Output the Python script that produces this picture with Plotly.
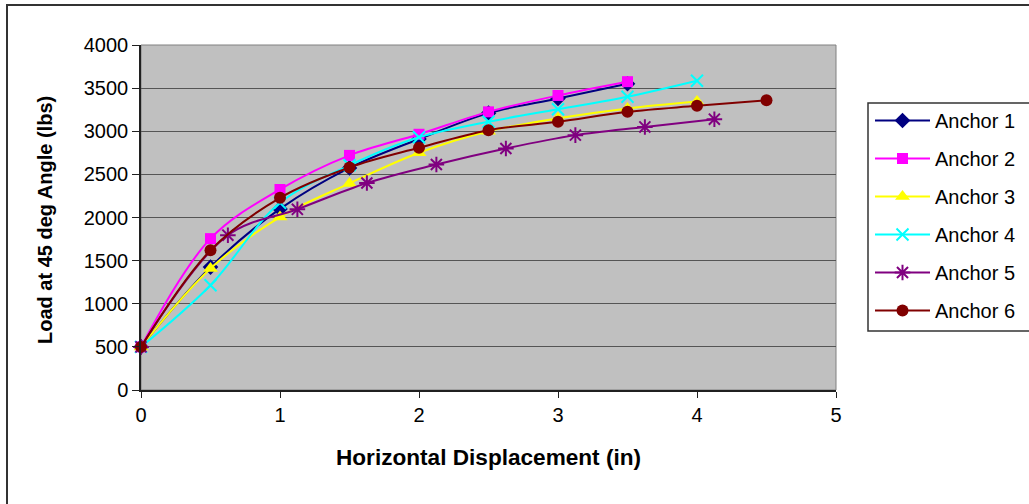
import plotly.graph_objects as go

# ---- data ----
a1_x = [0, 0.5, 1, 1.5, 2, 2.5, 3, 3.5]
a1_y = [500, 1425, 2100, 2575, 2910, 3210, 3380, 3550]

a2_x = [0, 0.5, 1, 1.5, 2, 2.5, 3, 3.5]
a2_y = [500, 1755, 2325, 2720, 2965, 3225, 3415, 3575]

a3_x = [0, 0.5, 1, 1.5, 2, 2.5, 3, 3.5, 4]
a3_y = [500, 1410, 2005, 2395, 2750, 3000, 3150, 3265, 3345]

a4_x = [0, 0.5, 1, 1.5, 2, 2.5, 3, 3.5, 4]
a4_y = [500, 1215, 2170, 2605, 2930, 3110, 3255, 3400, 3585]

a5_x = [0, 0.625, 1.125, 1.625, 2.125, 2.625, 3.125, 3.625, 4.125]
a5_y = [500, 1795, 2095, 2400, 2615, 2800, 2955, 3050, 3140]

a6_x = [0, 0.5, 1, 1.5, 2, 2.5, 3, 3.5, 4, 4.5]
a6_y = [500, 1620, 2228, 2580, 2808, 3012, 3110, 3225, 3295, 3360]

names = ["Anchor 1", "Anchor 2", "Anchor 3", "Anchor 4", "Anchor 5", "Anchor 6"]
xs = [a1_x, a2_x, a3_x, a4_x, a5_x, a6_x]
ys = [a1_y, a2_y, a3_y, a4_y, a5_y, a6_y]
colors = ["#000080", "#FF00FF", "#FFFF00", "#00FFFF", "#800080", "#800000"]
symbols = ["diamond", "square", "triangle-up", "x-thin", "asterisk", "circle"]
sizes = [12, 11, 13, 12, 13, 12]

x_ticks = [0, 1, 2, 3, 4, 5]
y_ticks = [0, 500, 1000, 1500, 2000, 2500, 3000, 3500, 4000]

x_title = "Horizontal Displacement (in)"
y_title = "Load at 45 deg Angle (lbs)"

FONT = "Liberation Sans, Arial, sans-serif"

fig = go.Figure()
for i in range(6):
    line_only = symbols[i] in ("x-thin", "asterisk")
    fig.add_trace(go.Scatter(
        x=xs[i], y=ys[i], name=names[i], mode="lines+markers",
        legendgroup=names[i],
        line=dict(color=colors[i], width=2, shape="spline", smoothing=1.0),
        marker=dict(symbol=symbols[i], size=sizes[i], color=colors[i],
                    line=dict(color=colors[i], width=2 if line_only else 0)),
        cliponaxis=False,
    ))

# plot area geometry (px)
L, R, T, B = 141, 836, 45, 390
W, H = 1029, 504
pw, ph = R - L, B - T

def px_x(p):
    return (p - L) / pw

def px_y(p):
    return (B - p) / ph

shapes = [
    # plot area border (gray)
    dict(type="rect", xref="paper", yref="paper", x0=0, y0=0, x1=1, y1=1,
         line=dict(color="#808080", width=1), layer="below"),
    # legend box
    dict(type="rect", xref="paper", yref="paper",
         x0=px_x(868), x1=px_x(1045), y0=px_y(331), y1=px_y(103),
         line=dict(color="#333333", width=1.5), fillcolor="white", layer="below"),
    # outer chart border
    dict(type="rect", xref="paper", yref="paper",
         x0=px_x(7), x1=px_x(1040), y0=px_y(515), y1=px_y(5),
         line=dict(color="#333333", width=2)),
]

annotations = [
    dict(text="<b>" + x_title + "</b>", xref="paper", yref="paper",
         x=px_x(489), y=px_y(457), xanchor="center", yanchor="middle",
         showarrow=False, font=dict(family=FONT, size=22.6, color="black")),
    dict(text="<b>" + y_title + "</b>", xref="paper", yref="paper",
         x=px_x(45), y=px_y(220), xanchor="center", yanchor="middle",
         textangle=-90, showarrow=False,
         font=dict(family=FONT, size=20, color="black")),
]

fig.update_layout(
    width=W, height=H,
    margin=dict(l=L, r=W - R, t=T, b=H - B, pad=0, autoexpand=False),
    paper_bgcolor="white",
    plot_bgcolor="#C0C0C0",
    font=dict(family=FONT, size=20, color="black"),
    showlegend=True,
    legend=dict(x=px_x(870), y=px_y(101), xanchor="left", yanchor="top",
                bgcolor="rgba(0,0,0,0)", borderwidth=0,
                font=dict(family=FONT, size=20, color="black"),
                tracegroupgap=9, itemwidth=55),
    shapes=shapes,
    annotations=annotations,
    xaxis=dict(range=[0, 5], tickvals=x_ticks, ticktext=[str(v) for v in x_ticks],
               showgrid=False, zeroline=False, automargin=False,
               showline=True, linecolor="#202020", linewidth=1.5,
               ticks="outside", ticklen=6, tickcolor="#202020",
               tickfont=dict(family=FONT, size=20)),
    yaxis=dict(range=[0, 4000], tickvals=y_ticks, ticktext=[str(v) for v in y_ticks],
               showgrid=True, gridcolor="#555555", gridwidth=1,
               zeroline=False, automargin=False,
               showline=True, linecolor="#202020", linewidth=1.5,
               ticks="outside", ticklen=7, tickcolor="#202020",
               tickfont=dict(family=FONT, size=20)),
)

fig.write_html("out.html")
